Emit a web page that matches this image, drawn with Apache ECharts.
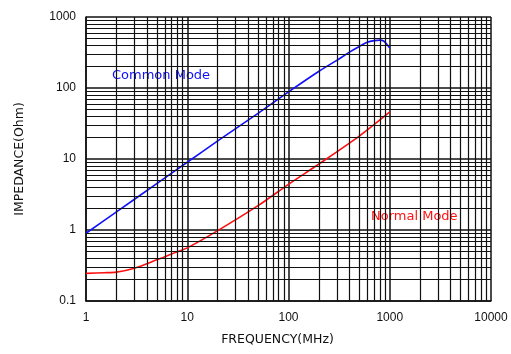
<!DOCTYPE html>
<html>
<head>
<meta charset="UTF-8">
<script src="https://cdn.jsdelivr.net/npm/echarts@6/dist/echarts.min.js"></script>
<style>
  html, body, #main { margin: 0; padding: 0; width: 511px; height: 354px; background: #fff; }
</style>
</head>
<body>
<div id="main"></div>
<script>
  // frequency (MHz) vs impedance (Ohm)
  const commonFreq = [1, 2, 5, 10, 20, 50, 100, 200, 300, 400, 500, 600, 700, 800, 870, 940, 1000];
  const commonZ = [0.9, 1.8, 4.5, 9, 18, 44, 88, 172, 245, 320, 385, 440, 465, 472, 460, 410, 365];

  const normalFreq = [1, 1.5, 2, 3, 5, 7, 10, 20, 50, 100, 200, 500, 1000];
  const normalZ = [0.245, 0.25, 0.255, 0.29, 0.38, 0.46, 0.56, 0.98, 2.2, 4.4, 8.5, 21, 46];

  const xTicks = ['1', '10', '100', '1000', '10000'];
  const yTicks = ['0.1', '1', '10', '100', '1000'];

  // 2..9 gridlines inside each decade
  function minorValues(lo, hi) {
    const out = [];
    for (let d = lo; d < hi; d *= 10) {
      for (let k = 2; k <= 9; k++) out.push(+(k * d).toPrecision(3));
    }
    return out;
  }
  const xMinor = minorValues(1, 10000);
  const yMinor = minorValues(0.1, 1000);

  const chart = echarts.init(document.getElementById('main'));
  const gridColor = '#111';
  const font = 'DejaVu Sans, sans-serif';

  chart.setOption({
    animation: false,
    backgroundColor: '#fff',
    textStyle: { fontFamily: 'Liberation Sans, Arial, sans-serif' },
    grid: { left: 86, right: 20, top: 17, bottom: 53 },
    xAxis: {
      type: 'log', logBase: 10, min: 1, max: 10000,
      name: 'FREQUENCY(MHz)', nameLocation: 'middle', nameGap: 32,
      nameTextStyle: { color: '#111', fontSize: 12.5, fontFamily: font, padding: [0, 22, 0, 0] },
      axisLine: { show: true, lineStyle: { color: gridColor, width: 1.5 } },
      axisTick: { show: false },
      axisLabel: { color: '#111', fontSize: 12, margin: 11,
        formatter: v => xTicks.find(t => +t === v) || '' },
      splitLine: { show: true, lineStyle: { color: gridColor, width: 1.5 } }
    },
    yAxis: {
      type: 'log', logBase: 10, min: 0.1, max: 1000,
      name: 'IMPEDANCE(Ohm)', nameLocation: 'middle', nameGap: 60, nameRotate: 90,
      nameTextStyle: { color: '#111', fontSize: 12.5, fontFamily: font },
      axisLine: { show: true, lineStyle: { color: gridColor, width: 1.5 } },
      axisTick: { show: false },
      axisLabel: { color: '#111', fontSize: 12, margin: 10,
        formatter: v => yTicks.find(t => Math.abs(+t - v) < 1e-9 * Math.max(1, v)) || '' },
      splitLine: { show: true, lineStyle: { color: gridColor, width: 1.5 } }
    },
    series: [
      {
        name: 'grid', type: 'line', data: [], silent: true,
        markLine: {
          silent: true, symbol: 'none', animation: false,
          label: { show: false },
          lineStyle: { color: gridColor, width: 1.2, type: 'solid' },
          data: xMinor.map(v => ({ xAxis: v })).concat(yMinor.map(v => ({ yAxis: v })))
        }
      },
      {
        name: 'Common Mode', type: 'line', smooth: 0.3, symbol: 'none',
        lineStyle: { color: '#1010ff', width: 1.6 },
        data: commonFreq.map((f, i) => [f, commonZ[i]])
      },
      {
        name: 'Normal Mode', type: 'line', smooth: 0.3, symbol: 'none',
        lineStyle: { color: '#ff1010', width: 1.6 },
        data: normalFreq.map((f, i) => [f, normalZ[i]])
      }
    ],
    graphic: [
      { type: 'text', left: 112, top: 69,
        style: { text: 'Common Mode', fill: '#1010ff', fontSize: 13, fontFamily: font } },
      { type: 'text', left: 371, top: 210,
        style: { text: 'Normal Mode', fill: '#ff1010', fontSize: 13, fontFamily: font } }
    ]
  });
</script>
</body>
</html>
